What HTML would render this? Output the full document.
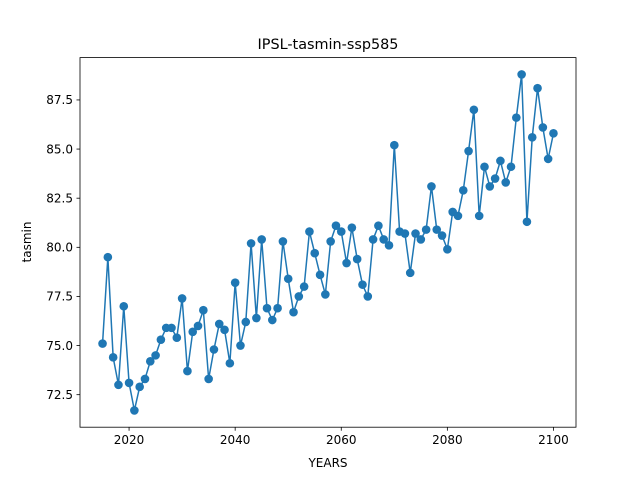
<!DOCTYPE html>
<html><head><meta charset="utf-8"><style>body{margin:0;background:#fff}svg{display:block;font-family:"DejaVu Sans","Liberation Sans",sans-serif}</style></head>
<body>
<svg id="chart" width="640" height="480" xmlns="http://www.w3.org/2000/svg">
<rect width="640" height="480" fill="#fff"/>
<text x="328" y="49" text-anchor="middle" font-size="14.4">IPSL-tasmin-ssp585</text>
<text x="328" y="467" text-anchor="middle" font-size="12">YEARS</text>
<text x="31" y="242" text-anchor="middle" font-size="12" transform="rotate(-90 31 242)">tasmin</text>
<g id="plot"></g>
</svg>
<script>
const startYear = 2015;
const values = [75.1,79.5,74.4,73.0,77.0,73.1,71.7,72.9,73.3,74.2,74.5,75.3,75.9,75.9,75.4,77.4,73.7,75.7,76.0,76.8,73.3,74.8,76.1,75.8,74.1,78.2,75.0,76.2,80.2,76.4,80.4,76.9,76.3,76.9,80.3,78.4,76.7,77.5,78.0,80.8,79.7,78.6,77.6,80.3,81.1,80.8,79.2,81.0,79.4,78.1,77.5,80.4,81.1,80.4,80.1,85.2,80.8,80.7,78.7,80.7,80.4,80.9,83.1,80.9,80.6,79.9,81.8,81.6,82.9,84.9,87.0,81.6,84.1,83.1,83.5,84.4,83.3,84.1,86.6,88.8,81.3,85.6,88.1,86.1,84.5,85.8];
const xTicks = [2020,2040,2060,2080,2100];
const yTicks = [72.5,75.0,77.5,80.0,82.5,85.0,87.5];

const L=80,R=576,T=57.6,B=427.2;
const years = values.map((v,i)=>startYear+i);
const x0=Math.min(...years),x1=Math.max(...years),xm=(x1-x0)*0.05;
const y0=Math.min(...values),y1=Math.max(...values),ym=(y1-y0)*0.05;
const X=v=>L+(v-(x0-xm))/((x1+xm)-(x0-xm))*(R-L);
const Y=v=>B-(v-(y0-ym))/((y1+ym)-(y0-ym))*(B-T);
const NS="http://www.w3.org/2000/svg";
const g=document.getElementById('plot');
function mk(t,a){const e=document.createElementNS(NS,t);for(const k in a)e.setAttribute(k,a[k]);g.appendChild(e);return e;}
xTicks.forEach(t=>{
  const l=mk('line',{x1:X(t),x2:X(t),y1:B,y2:B+3.5,stroke:'#000','stroke-width':0.8});
  
  
  const s=mk('text',{x:X(t),y:B+17,'text-anchor':'middle','font-size':12});
  
  
  s.textContent=t;
});
yTicks.forEach(t=>{
  const l=mk('line',{x1:L-3.5,x2:L,y1:Y(t),y2:Y(t),stroke:'#000','stroke-width':0.8});
  
  
  const s=mk('text',{x:L-7,y:Y(t)+4.3,'text-anchor':'end','font-size':12});
  
  
  s.textContent=t.toFixed(1);
});
const line=mk('polyline',{points:values.map((v,i)=>X(years[i])+','+Y(v)).join(' '),fill:'none',stroke:'#1f77b4','stroke-width':1.5});


values.forEach((v,i)=>{
  const c=mk('circle',{cx:X(years[i]),cy:Y(v),r:4.3,fill:'#1f77b4'});
  
  
});
const fr=mk('rect',{x:L,y:T,width:R-L,height:B-T,fill:'none',stroke:'#000','stroke-width':0.8});


</script>
</body></html>
